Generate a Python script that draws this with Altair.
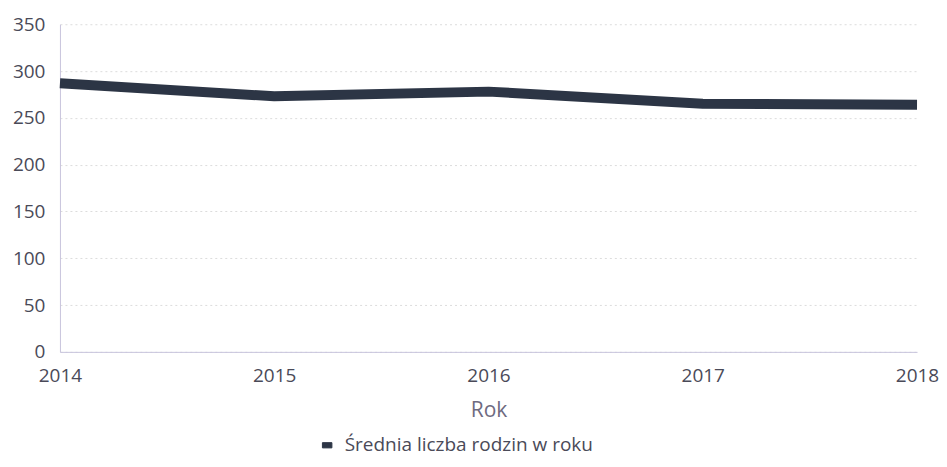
import altair as alt
import pandas as pd

years = [2014, 2015, 2016, 2017, 2018]
values = [287, 273, 278, 265, 264]
series = "Średnia liczba rodzin w roku"

df = pd.DataFrame({"Rok": years, "Wartość": values, "Seria": [series] * len(years)})

font = "Open Sans"
text_color = "#4a4a58"
line_color = "#2c3545"

chart = alt.Chart(df).mark_line(strokeWidth=10, strokeCap="butt", strokeJoin="round").encode(
    x=alt.X("Rok:Q",
            scale=alt.Scale(domain=[2014, 2018], nice=False, zero=False),
            axis=alt.Axis(values=years, format="d", title="Rok", grid=False, ticks=False,
                          labelPadding=15, labelFontSize=19, labelColor=text_color,
                          titleFontSize=21, titleColor="#6e6a80", titleFontWeight="normal",
                          titlePadding=14, domainColor="#c8c4dc", labelFlush=False)),
    y=alt.Y("Wartość:Q",
            scale=alt.Scale(domain=[0, 350], nice=False),
            axis=alt.Axis(values=[0, 50, 100, 150, 200, 250, 300, 350], title=None,
                          ticks=False, labelPadding=15, labelFontSize=19, labelColor=text_color,
                          gridColor="#dcdcdc", gridDash=[2, 3], gridWidth=1,
                          domainColor="#c8c4dc")),
    color=alt.Color("Seria:N",
                    scale=alt.Scale(range=[line_color]),
                    legend=alt.Legend(title=None, orient="none", legendX=258, legendY=412,
                                      symbolType="M-1,-0.55L1,-0.55L1,0.55L-1,0.55Z",
                                      symbolSize=90, labelFontSize=19,
                                      symbolFillColor=line_color, symbolStrokeColor=line_color,
                                      symbolStrokeWidth=1,
                                      labelLimit=400, labelOffset=8,
                                      labelColor=text_color)),
).properties(
    width=858, height=328,
    autosize=alt.AutoSizeParams(type="none"),
    padding={"left": 52, "top": 16, "right": 22, "bottom": 107},
).configure(font=font).configure_view(stroke=None)

chart.save("out.html", embed_options={"renderer": "svg", "actions": False})
